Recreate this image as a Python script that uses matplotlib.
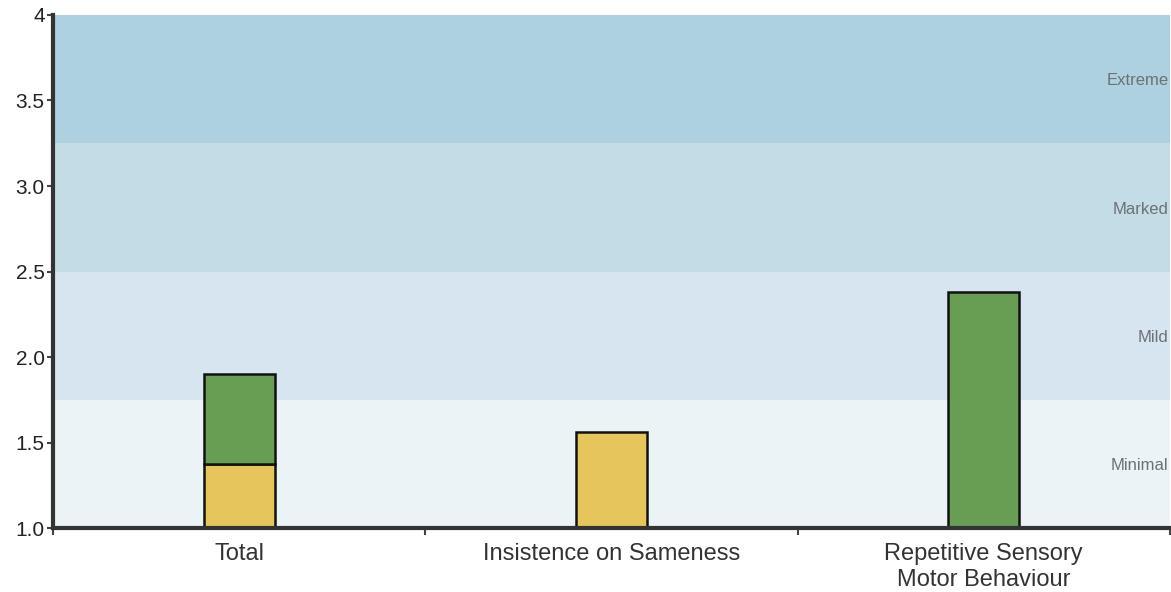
import matplotlib
matplotlib.use('Agg')
import matplotlib.pyplot as plt

plt.rcParams['font.family'] = ['Liberation Sans', 'DejaVu Sans']

categories = ['Total', 'Insistence on Sameness', 'Repetitive Sensory\nMotor Behaviour']
yellow_top = [1.375, 1.56, None]
green_top = [1.90, None, 2.38]
base = 1.0

band_names = ['Minimal', 'Mild', 'Marked', 'Extreme']
band_edges = [1.0, 1.75, 2.5, 3.25, 4.0]
band_colors = ['#eaf3f5', '#d7e5f0', '#c3dce5', '#aed1e0']

ytick_vals = [1.0, 1.5, 2.0, 2.5, 3.0, 3.5, 4.0]
ytick_labels = ['1.0', '1.5', '2.0', '2.5', '3.0', '3.5', '4']

fig = plt.figure(figsize=(11.71, 5.92), dpi=100)
ax = fig.add_axes([0.0453, 0.108, 0.9537, 0.8667])

for i in range(len(band_names)):
    ax.axhspan(band_edges[i], band_edges[i + 1], color=band_colors[i], zorder=0, lw=0)
    mid = (band_edges[i] + band_edges[i + 1]) / 2
    ax.text(2.496, mid - 0.01, band_names[i], ha='right', va='center',
            fontsize=12, color='#6c7176', zorder=1)

w = 0.19
for i in range(len(categories)):
    bottom = base
    if yellow_top[i] is not None:
        ax.bar(i, yellow_top[i] - bottom, width=w, bottom=bottom, color='#e6c65c',
               edgecolor='#111111', linewidth=1.8, zorder=3)
        bottom = yellow_top[i]
    if green_top[i] is not None:
        ax.bar(i, green_top[i] - bottom, width=w, bottom=bottom, color='#679e53',
               edgecolor='#111111', linewidth=1.8, zorder=3)

ax.set_xlim(-0.5, 2.5)
ax.set_ylim(1.0, 4.0)
ax.set_yticks(ytick_vals)
ax.set_yticklabels(ytick_labels, fontsize=15, color='#222222')

ax.set_xticks([-0.5, 0.5, 1.5, 2.5])
ax.set_xticklabels([])
ax.set_xticks([0, 1, 2], minor=True)
ax.set_xticklabels(categories, minor=True, fontsize=17, color='#333333')
ax.tick_params(axis='x', which='minor', length=0, pad=11)
ax.tick_params(axis='x', which='major', length=5, width=1.5, color='#444444')
ax.tick_params(axis='y', length=4, width=1.5, color='#444444', pad=2)

for s in ['top', 'right']:
    ax.spines[s].set_visible(False)
for s in ['left', 'bottom']:
    ax.spines[s].set_linewidth(3)
    ax.spines[s].set_color('#333333')
    ax.spines[s].set_zorder(5)

fig.savefig('out.png', dpi=100)
